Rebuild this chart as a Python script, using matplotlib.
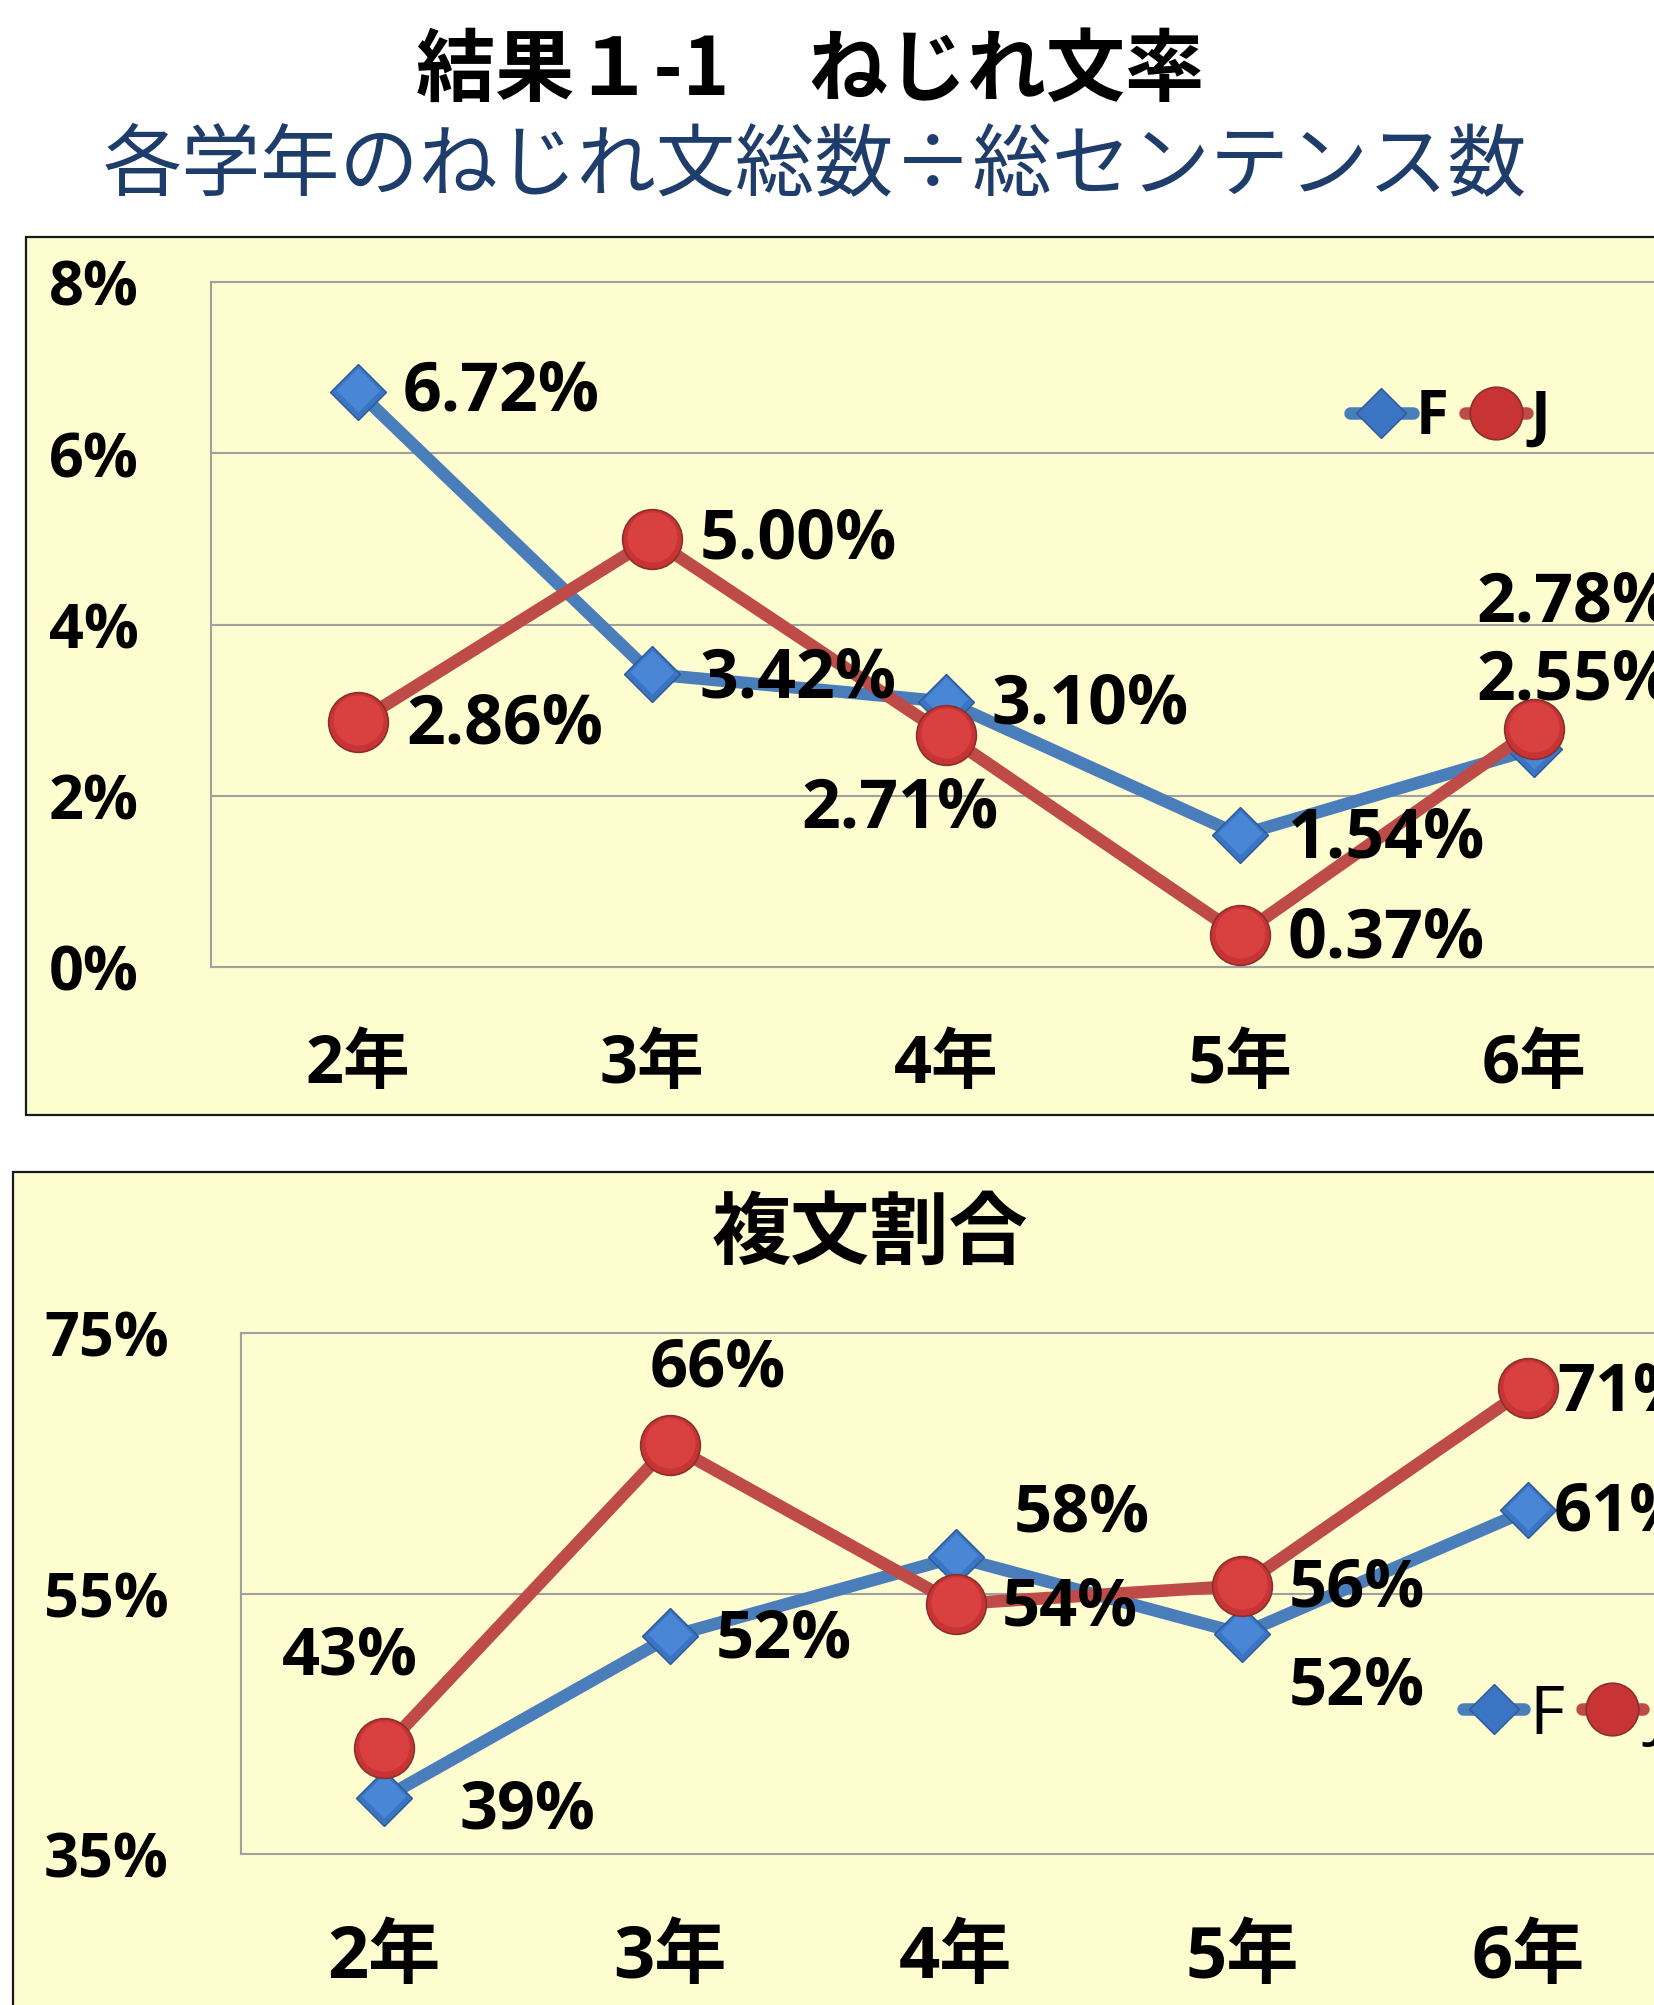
import matplotlib
matplotlib.use('Agg')
import matplotlib.pyplot as plt
from matplotlib.patches import Rectangle
from matplotlib.transforms import ScaledTranslation

# ---------------- data ----------------
grades = ['2年', '3年', '4年', '5年', '6年']
series_names = ['F', 'J']

twist_F = [6.72, 3.42, 3.10, 1.54, 2.55]
twist_J = [2.86, 5.00, 2.71, 0.37, 2.78]
twist_ticks = [0, 2, 4, 6, 8]

complex_F = [39.3, 51.7, 57.8, 51.9, 61.4]
complex_J = [43.1, 66.4, 54.2, 55.6, 70.8]
complex_ticks = [35, 55, 75]

title = '結果１-1　ねじれ文率'
subtitle = '各学年のねじれ文総数÷総センテンス数'
title2 = '複文割合'

# ---------------- style ----------------
W, H, DPI = 1654, 2006, 100
BG = '#FEFDD0'
BLUE_LINE = '#4A7EBB'
BLUE_MK = '#3A74C2'
BLUE_HI = '#4C8BDA'
BLUE_EDGE = '#2A5A96'
RED_LINE = '#BE4B48'
RED_MK = '#C83434'
RED_HI = '#DE4545'
RED_EDGE = '#8A2E2E'
GRID = '#A0A0A0'
NAVY = '#1F3D6B'

plt.rcParams['font.family'] = ['Open Sans', 'Noto Sans CJK JP', 'DejaVu Sans']
CJK = ['Noto Sans CJK JP', 'DejaVu Sans']

fig = plt.figure(figsize=(W / DPI, H / DPI), dpi=DPI, facecolor='white')

PX2PT = 72.0 / DPI


def fx(x):
    return x / W


def fy(y):
    return 1 - y / H


def px_axes(left, top, right, bottom):
    return fig.add_axes([fx(left), fy(bottom), (right - left) / W, (bottom - top) / H])


# panel boxes (drawn behind the axes)
fig.patches.append(Rectangle((fx(26), fy(1116)), fx(1700) - fx(26), fy(238) - fy(1116),
                             transform=fig.transFigure, facecolor=BG, edgecolor='#1a1a1a',
                             lw=1.6, zorder=-5))
fig.patches.append(Rectangle((fx(13), fy(2100)), fx(1700) - fx(13), fy(1173) - fy(2100),
                             transform=fig.transFigure, facecolor=BG, edgecolor='#1a1a1a',
                             lw=1.6, zorder=-5))

# titles
fig.text(fx(810), fy(71), title, ha='center', va='center', fontsize=57,
         fontweight='bold', family=CJK, color='black')
fig.text(fx(815), fy(167), subtitle, ha='center', va='center', fontsize=57,
         family=CJK, color=NAVY)
fig.text(fx(870), fy(1234), title2, ha='center', va='center', fontsize=57,
         fontweight='bold', family=CJK, color='black')


def setup_axes(ax, ticks, ylab_size, xlab_size, xpad_px, fmt):
    ax.set_facecolor('none')
    ax.set_xlim(-0.5, len(grades) - 0.5)
    ax.set_ylim(ticks[0], ticks[-1])
    ax.set_yticks(ticks)
    ax.set_yticklabels([fmt.format(t) for t in ticks])
    ax.set_xticks(range(len(grades)))
    ax.set_xticklabels(grades)
    for s in ['top', 'right', 'bottom']:
        ax.spines[s].set_visible(False)
    ax.spines['left'].set_color(GRID)
    ax.spines['left'].set_linewidth(1.5)
    ax.yaxis.grid(True, color=GRID, lw=1.5)
    ax.set_axisbelow(True)
    ax.tick_params(axis='y', length=0, pad=72 * PX2PT, labelsize=ylab_size)
    ax.tick_params(axis='x', length=0, pad=xpad_px * PX2PT, labelsize=xlab_size)
    for lab in ax.get_yticklabels():
        lab.set_fontweight('bold')
    for lab in ax.get_xticklabels():
        lab.set_fontweight('bold')
        lab.set_va('center')
    for gl in ax.yaxis.get_gridlines():
        gl.set_clip_on(False)


def draw_series(ax, vals_F, vals_J):
    x = list(range(len(grades)))
    up = ax.transData + ScaledTranslation(0, 1.5 / 72, fig.dpi_scale_trans)
    lf, = ax.plot(x, vals_F, color=BLUE_LINE, lw=9, marker='D', ms=29,
                  mfc=BLUE_MK, mec=BLUE_EDGE, mew=1.0, zorder=3, label=series_names[0],
                  solid_joinstyle='round', solid_capstyle='round', clip_on=False)
    ax.plot(x, vals_F, ls='none', marker='D', ms=22, mfc=BLUE_HI, mec='none',
            alpha=0.85, zorder=3.1, transform=up, clip_on=False)
    lj, = ax.plot(x, vals_J, color=RED_LINE, lw=9, marker='o', ms=43,
                  mfc=RED_MK, mec=RED_EDGE, mew=1.2, zorder=4, label=series_names[1],
                  solid_joinstyle='round', solid_capstyle='round', clip_on=False)
    ax.plot(x, vals_J, ls='none', marker='o', ms=36, mfc=RED_HI, mec='none',
            alpha=0.8, zorder=4.1, transform=up, clip_on=False)
    return lf, lj


def label_points(ax, vals, labels, offsets, size):
    for i, (v, lab, off) in enumerate(zip(vals, labels, offsets)):
        dx, dy, ha = off
        ax.annotate(lab, (i, v), xytext=(dx * PX2PT, dy * PX2PT), textcoords='offset points',
                    ha=ha, va='center', fontsize=size, fontweight='bold', color='black',
                    zorder=6, annotation_clip=False)


# ---------------- top chart ----------------
ax1 = px_axes(211, 283, 211 + 5 * 294, 968)
setup_axes(ax1, twist_ticks, 44, 48, 98, '{:d}%')
lf1, lj1 = draw_series(ax1, twist_F, twist_J)

top_off_F = [(45, 0, 'left'), (47, -4, 'left'), (45, -3, 'left'), (48, -3, 'left'), (-58, 68, 'left')]
top_off_J = [(48, -2, 'left'), (48, -1, 'left'), (-46, -74, 'center'), (48, -3, 'left'), (-58, 126, 'left')]
label_points(ax1, twist_F, ['{:.2f}%'.format(v) for v in twist_F], top_off_F, 49)
label_points(ax1, twist_J, ['{:.2f}%'.format(v) for v in twist_J], top_off_J, 49)

leg1 = ax1.legend([lf1, lj1], series_names, loc='center left',
                  bbox_to_anchor=(fx(1350), fy(419)), bbox_transform=fig.transFigure,
                  ncol=2, frameon=False, borderpad=0, borderaxespad=0,
                  handlelength=1.05, handletextpad=0.05,
                  columnspacing=0.27, markerscale=0.88,
                  prop={'size': 43, 'weight': 'bold'})

# ---------------- bottom chart ----------------
ax2 = px_axes(241, 1334, 241 + 5 * 286, 1855)
setup_axes(ax2, complex_ticks, 44, 52, 104, '{:d}%')
lf2, lj2 = draw_series(ax2, complex_F, complex_J)

bot_off_F = [(75, -12, 'left'), (46, -3, 'left'), (126, 44, 'center'), (47, -52, 'left'), (26, -2, 'left')]
bot_off_J = [(-34, 92, 'center'), (48, 77, 'center'), (46, -3, 'left'), (47, -2, 'left'), (29, -4, 'left')]
label_points(ax2, complex_F, ['{:.0f}%'.format(v) for v in complex_F], bot_off_F, 48)
label_points(ax2, complex_J, ['{:.0f}%'.format(v) for v in complex_J], bot_off_J, 48)

leg2 = ax2.legend([lf2, lj2], series_names, loc='center left',
                  bbox_to_anchor=(fx(1463), fy(1716)), bbox_transform=fig.transFigure,
                  ncol=2, frameon=False, borderpad=0, borderaxespad=0,
                  handlelength=0.9, handletextpad=0.07,
                  columnspacing=0.26, markerscale=0.88,
                  prop={'size': 49})

fig.savefig('out.png', dpi=DPI, facecolor='white')
